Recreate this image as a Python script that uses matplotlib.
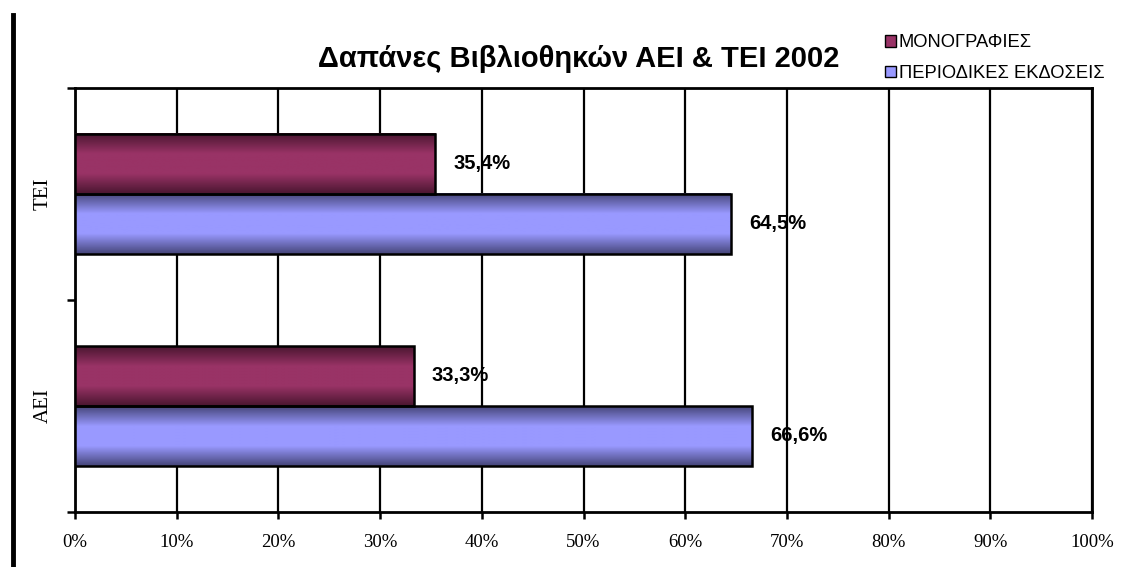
import numpy as np
import matplotlib.pyplot as plt
from matplotlib.colors import LinearSegmentedColormap
from matplotlib.lines import Line2D
from matplotlib.patches import Patch

# data
categories = ["AEI", "TEI"]
series_names = ["ΜΟΝΟΓΡΑΦΙΕΣ", "ΠΕΡΙΟΔΙΚΕΣ ΕΚΔΟΣΕΙΣ"]
monographs = [33.3, 35.4]
periodicals = [66.6, 64.5]
labels_mono = ["33,3%", "35,4%"]
labels_per = ["66,6%", "64,5%"]

colors = ["#993366", "#9999FF"]
dark = ["#4a1630", "#46467a"]

fig = plt.figure(figsize=(11.22, 5.67), dpi=100)
ax = fig.add_axes([75 / 1122, 55 / 567, 1017 / 1122, 424 / 567])

ypos = np.arange(len(categories)) + 0.5
h = 60 / 212

bars_m = ax.barh(ypos + h / 2, monographs, height=h, facecolor="none", edgecolor="black", linewidth=1.8, zorder=4)
bars_p = ax.barh(ypos - h / 2, periodicals, height=h, facecolor="none", edgecolor="black", linewidth=1.8, zorder=4)

# gradient fill for each bar
for bars, c, d in [(bars_m, colors[0], dark[0]), (bars_p, colors[1], dark[1])]:
    cmap = LinearSegmentedColormap.from_list("g", [d, c, c, d])
    grad = np.linspace(0, 1, 100).reshape(-1, 1)
    for b in bars:
        ax.imshow(grad, cmap=cmap, aspect="auto", zorder=3,
                  extent=(b.get_x(), b.get_x() + b.get_width(), b.get_y(), b.get_y() + b.get_height()))

for b, t in zip(bars_m, labels_mono):
    ax.text(b.get_width() + 1.8, b.get_y() + b.get_height() / 2, t, fontsize=14.5, fontweight="bold",
            family="Liberation Sans", va="center", ha="left", zorder=6)
for b, t in zip(bars_p, labels_per):
    ax.text(b.get_width() + 1.8, b.get_y() + b.get_height() / 2, t, fontsize=14.5, fontweight="bold",
            family="Liberation Sans", va="center", ha="left", zorder=6)

ax.set_xlim(0, 100)
ax.set_ylim(0, 2)
ax.set_xticks(np.arange(0, 101, 10))
ax.set_xticklabels([f"{v}%" for v in range(0, 101, 10)], family="Liberation Serif", fontsize=13.5)
ax.set_yticks([0, 1, 2])
ax.set_yticklabels([])
ax.set_yticks(ypos, minor=True)
ax.set_yticklabels(categories, minor=True, rotation=90, va="center", family="Liberation Serif", fontsize=15)
ax.tick_params(axis="y", which="minor", length=0, pad=16)
ax.tick_params(axis="y", which="major", length=6, width=1.8, direction="out")
ax.tick_params(axis="x", length=5, width=1.8, direction="out", pad=11)
ax.grid(axis="x", color="black", linewidth=1.6, zorder=1)
ax.set_axisbelow(True)
for s in ax.spines.values():
    s.set_linewidth(2)

ax.set_title("Δαπάνες Βιβλιοθηκών ΑΕΙ & ΤΕΙ 2002", fontsize=21, fontweight="bold",
             family="Liberation Sans", x=0.495, pad=15)

handles = [Patch(facecolor=colors[0], edgecolor="black"), Patch(facecolor=colors[1], edgecolor="black")]
fig.legend(handles, series_names, loc="upper left", bbox_to_anchor=(876 / 1122, 1 - 25 / 567),
           frameon=False, prop={"family": "Liberation Sans", "size": 13.2},
           handlelength=0.6, handleheight=0.6, handletextpad=0.15, labelspacing=0.75, borderpad=0)

fig.add_artist(Line2D([13 / 1122, 13 / 1122], [0, 1 - 15 / 567], color="black", linewidth=3.5))

fig.savefig("out.png", dpi=100)
